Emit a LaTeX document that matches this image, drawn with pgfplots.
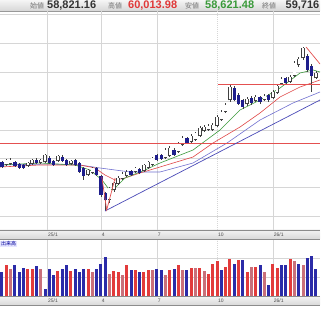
\documentclass[border=0pt]{standalone}
\usepackage{fontspec}
\setmainfont{Liberation Sans}
\newfontfamily\jp{Noto Sans CJK JP}
\usepackage{pgfplots}
\usepackage{pgfplotstable}
\pgfplotsset{compat=1.18}

\definecolor{candleblue}{HTML}{1E1E8C}
\definecolor{vred}{HTML}{E23B3B}
\definecolor{vpink}{HTML}{C9707A}
\definecolor{vblue}{HTML}{2B2BA8}
\definecolor{magreen}{HTML}{3C9A3C}
\definecolor{mared}{HTML}{E04848}
\definecolor{mablue}{HTML}{7070D0}
\definecolor{trendblue}{HTML}{4A4AB8}
\definecolor{hlred}{HTML}{E45050}
\definecolor{gridgray}{HTML}{D6D6D6}
\definecolor{hdrgreen}{HTML}{3A9A3A}
\definecolor{hdrred}{HTML}{E03838}

\pgfplotstableread{
i o h l c
1 65 71 64 70
2 66 72 65 70
6 64 68 63 67
7 66 71 65 70
9 67 71 66 70
10 68 76 67 75
13 69 75 68 74
16 66 70 65 69
20 55 61 54 60
21 57 63 56 62
25 30 43 27 42
26 40 48 38 47
27 46 54 45 52
28 51 58 50 56
29 54 60 53 58
31 58 63 57 62
33 59 66 58 65
34 62 69 61 68
35 65 73 64 72
38 72 82 71 80
39 74 84 73 82
41 78 88 77 87
42 85 94 84 92
44 88 96 87 94
45 90 98 89 97
46 94 104 93 102
47 99 105 98 103
48 100 106 99 104
49 100 107 99 105
50 104 115 103 113
51 110 120 109 118
52 118 127 117 125
53 130 145 128 143
57 126 133 124 131
59 129 135 128 133
61 130 136 129 134
63 132 140 131 138
64 137 146 136 144
65 146 153 145 151
67 148 155 147 153
68 154 169 153 167
69 165 173 163 171
70 172 183 170 182
73 152 159 151 157
}\upcandles

\pgfplotstableread{
i o h l c
0 68 69 62 63
3 68 69 63 64
4 66 67 61 62
5 65 66 61 62
8 70 72 66 67
11 72 74 66 67
12 69 70 64 65
14 73 75 68 69
15 70 71 64 65
17 70 71 64 65
18 67 68 57 58
19 62 63 50 54
22 62 63 54 55
23 54 55 33 35
24 37 38 19 30
30 59 60 54 55
32 61 62 56 57
36 75 76 69 70
37 75 76 70 71
40 80 82 74 75
43 92 93 86 87
54 142 144 129 130
55 135 137 125 126
56 130 131 121 123
58 132 134 125 127
60 133 134 126 128
62 135 136 128 130
66 152 153 145 147
71 174 176 158 160
72 164 166 138 154
}\downcandles

\pgfplotstableread{
i v
0 24
3 31.3
4 24
5 28
8 30
10 7.3
11 26.7
12 21.3
14 26.7
15 31.3
17 27.3
18 24
19 27.3
22 26.7
23 32.3
24 39
30 25.7
32 24
36 26.7
37 25.7
40 27.3
43 25.7
51 25.7
54 32.3
56 35.7
60 31.3
62 10.7
65 30.7
66 31.3
69 32.3
71 38
72 40
73 27.3
}\volB

\pgfplotstableread{
i v
1 30.7
6 26.7
7 26.7
13 24.7
16 24.7
20 27.3
26 24.7
27 24
29 30.7
31 25.7
33 24
34 25.7
39 25.7
41 31.3
44 28
46 28
48 22.3
49 32.3
50 34.7
52 29
53 36.7
55 35.7
57 24
59 29
63 32.3
64 28
67 36.7
}\volR

\pgfplotstableread{
i v
2 26.7
9 27.3
21 24
25 22.3
28 20.7
35 25.7
38 21.3
42 25.7
45 28
47 24.7
58 29
61 24
68 34.7
70 30.7
}\volP

\begin{document}
\begin{tikzpicture}
\useasboundingbox (0pt,0pt) rectangle (320pt,320pt);
\clip (0pt,0pt) rectangle (320pt,320pt);
\fill[white] (0pt,0pt) rectangle (320pt,320pt);

% header bar
\fill[top color=black!4, bottom color=black!16] (0pt,309pt) rectangle (320pt,320pt);
\draw[black!40, line width=0.5pt] (0pt,309pt) -- (320pt,309pt);
% tick bars
\fill[top color=black!5, bottom color=black!15] (0pt,81pt) rectangle (320pt,90pt);
\draw[black!45, line width=0.5pt] (0pt,90pt) -- (320pt,90pt) (0pt,81pt) -- (320pt,81pt);
\fill[top color=black!5, bottom color=black!15] (0pt,15pt) rectangle (320pt,23.5pt);
\draw[black!45, line width=0.5pt] (0pt,23.5pt) -- (320pt,23.5pt) (0pt,15pt) -- (320pt,15pt);

% main price axis
\begin{axis}[
  at={(0pt,90pt)}, anchor=south west,
  scale only axis, width=320pt, height=219pt,
  xmin=-0.465, xmax=73.95, ymin=0, ymax=219, enlargelimits=false,
  axis line style={draw=none}, major tick length=0pt,
  xtick={10.5,23,36,63}, xticklabels={25/1,4,7,26/1},
  extra x ticks={50}, extra x tick labels={10},
  extra x tick style={major grid style={gridgray, line width=0.5pt, dash pattern=on 1pt off 1pt}},
  ytick={14,43,72,100,129,158,187,216}, yticklabels={},
  grid=major, major grid style={gridgray, line width=0.5pt},
  xticklabel style={anchor=west, yshift=-4.5pt, xshift=0.3pt, inner sep=0.5pt,
     font=\fontsize{5}{5}\selectfont, text=black!70},
]
% moving averages
\addplot[mablue, line width=0.6pt] coordinates {(-0.47,65) (11.16,66) (18.14,65) (22.79,62) (29.77,58) (36.74,58) (44.42,67) (52.33,87) (60,110) (67.67,127) (73.95,138)};
\addplot[mared, line width=0.6pt] coordinates {(-0.47,63) (8.84,65) (18.14,65) (21.63,62) (23.95,55) (26.28,50) (28.6,52) (32.09,57) (36.74,63) (44.42,73) (49.07,87) (55.35,103) (60,117) (64.65,133) (69.3,143) (73.95,150)};
\addplot[magreen, line width=0.6pt] coordinates {(-0.47,65) (8.84,67) (16.98,65) (20.47,60) (23.26,50) (24.65,42) (25.81,40) (26.98,45) (28.6,52) (30.93,56) (33.26,60) (36.74,67) (44.42,80) (50.7,100) (55.35,120) (60,130) (64.65,142) (69.3,157) (72.33,160) (73.95,158)};
% wicks
\addplot[draw=none, mark=none, forget plot, error bars/.cd, y dir=plus, y explicit, error mark=none,
  error bar style={draw=black!75, line width=0.5pt}]
  table[x=i, y=l, y error plus expr=\thisrow{h}-\thisrow{l}] {\upcandles};
\addplot[draw=none, mark=none, forget plot, error bars/.cd, y dir=plus, y explicit, error mark=none,
  error bar style={draw=black!75, line width=0.5pt}]
  table[x=i, y=l, y error plus expr=\thisrow{h}-\thisrow{l}] {\downcandles};
% up bodies (outline + white fill)
\addplot[draw=none, mark=none, forget plot, error bars/.cd, y dir=plus, y explicit, error mark=none,
  error bar style={draw=black!75, line width=3.4pt}]
  table[x=i, y expr=\thisrow{o}-0.3, y error plus expr=\thisrow{c}-\thisrow{o}+0.6] {\upcandles};
\addplot[draw=none, mark=none, forget plot, error bars/.cd, y dir=plus, y explicit, error mark=none,
  error bar style={draw=white, line width=2.4pt}]
  table[x=i, y expr=\thisrow{o}+0.5, y error plus expr=\thisrow{c}-\thisrow{o}-1.0] {\upcandles};
% down bodies
\addplot[draw=none, mark=none, forget plot, error bars/.cd, y dir=plus, y explicit, error mark=none,
  error bar style={draw=candleblue, line width=3.2pt}]
  table[x=i, y=c, y error plus expr=\thisrow{o}-\thisrow{c}] {\downcandles};
% annotations
\addplot[hlred, line width=1pt] coordinates {(-0.47,86.5) (73.95,86.5)};
\addplot[hlred, line width=1pt] coordinates {(50.2,145.5) (73.95,145.5)};
\addplot[trendblue, line width=0.7pt] coordinates {(23.95,19) (73.95,130)};
\addplot[hlred, line width=0.7pt] coordinates {(23.2,53.3) (24.35,20) (26.3,52)};
\addplot[hlred, line width=0.7pt] coordinates {(70.7,183) (73.95,166)};
\end{axis}

% volume axis
\begin{axis}[
  at={(0pt,24pt)}, anchor=south west,
  scale only axis, width=320pt, height=56pt,
  xmin=-0.465, xmax=73.95, ymin=0, ymax=56, enlargelimits=false,
  axis line style={draw=none}, major tick length=0pt,
  xtick={10.5,23,36,63}, xticklabels={25/1,4,7,26/1},
  extra x ticks={50}, extra x tick labels={10},
  extra x tick style={major grid style={gridgray, line width=0.5pt, dash pattern=on 1pt off 1pt}},
  ytick={19,38}, yticklabels={},
  grid=major, major grid style={gridgray, line width=0.5pt},
  xticklabel style={anchor=west, yshift=-4.8pt, xshift=0.3pt, inner sep=0.5pt,
     font=\fontsize{5}{5}\selectfont, text=black!70},
]
\addplot[draw=none, mark=none, forget plot, error bars/.cd, y dir=plus, y explicit, error mark=none,
  error bar style={draw=vblue, line width=3pt}]
  table[x=i, y expr=0, y error plus expr=\thisrow{v}] {\volB};
\addplot[draw=none, mark=none, forget plot, error bars/.cd, y dir=plus, y explicit, error mark=none,
  error bar style={draw=vred, line width=3pt}]
  table[x=i, y expr=0, y error plus expr=\thisrow{v}] {\volR};
\addplot[draw=none, mark=none, forget plot, error bars/.cd, y dir=plus, y explicit, error mark=none,
  error bar style={draw=vpink, line width=3pt}]
  table[x=i, y expr=0, y error plus expr=\thisrow{v}] {\volP};
\end{axis}

\node[anchor=north west, fill=blue!10, text=blue!60!black, inner sep=1pt,
  font=\jp\fontsize{5}{5}\selectfont] at (0pt,79.5pt) {出来高};

% header text
\node[anchor=west, inner sep=0pt, text=black!55, font=\jp\fontsize{7}{7}\selectfont] at (30pt,314.5pt) {始値};
\node[anchor=west, inner sep=0pt, text=black!80, font=\fontsize{11}{11}\selectfont\bfseries] at (47pt,314.5pt) {58,821.16};
\node[anchor=west, inner sep=0pt, text=black!55, font=\jp\fontsize{7}{7}\selectfont] at (108pt,314.5pt) {高値};
\node[anchor=west, inner sep=0pt, text=hdrred, font=\fontsize{11}{11}\selectfont\bfseries] at (128pt,314.5pt) {60,013.98};
\node[anchor=west, inner sep=0pt, text=black!55, font=\jp\fontsize{7}{7}\selectfont] at (185pt,314.5pt) {安値};
\node[anchor=west, inner sep=0pt, text=hdrgreen, font=\fontsize{11}{11}\selectfont\bfseries] at (205pt,314.5pt) {58,621.48};
\node[anchor=west, inner sep=0pt, text=black!55, font=\jp\fontsize{7}{7}\selectfont] at (262pt,314.5pt) {終値};
\node[anchor=east, inner sep=0pt, text=black!80, font=\fontsize{11}{11}\selectfont\bfseries] at (319.5pt,314.5pt) {59,716};
\end{tikzpicture}
\end{document}
